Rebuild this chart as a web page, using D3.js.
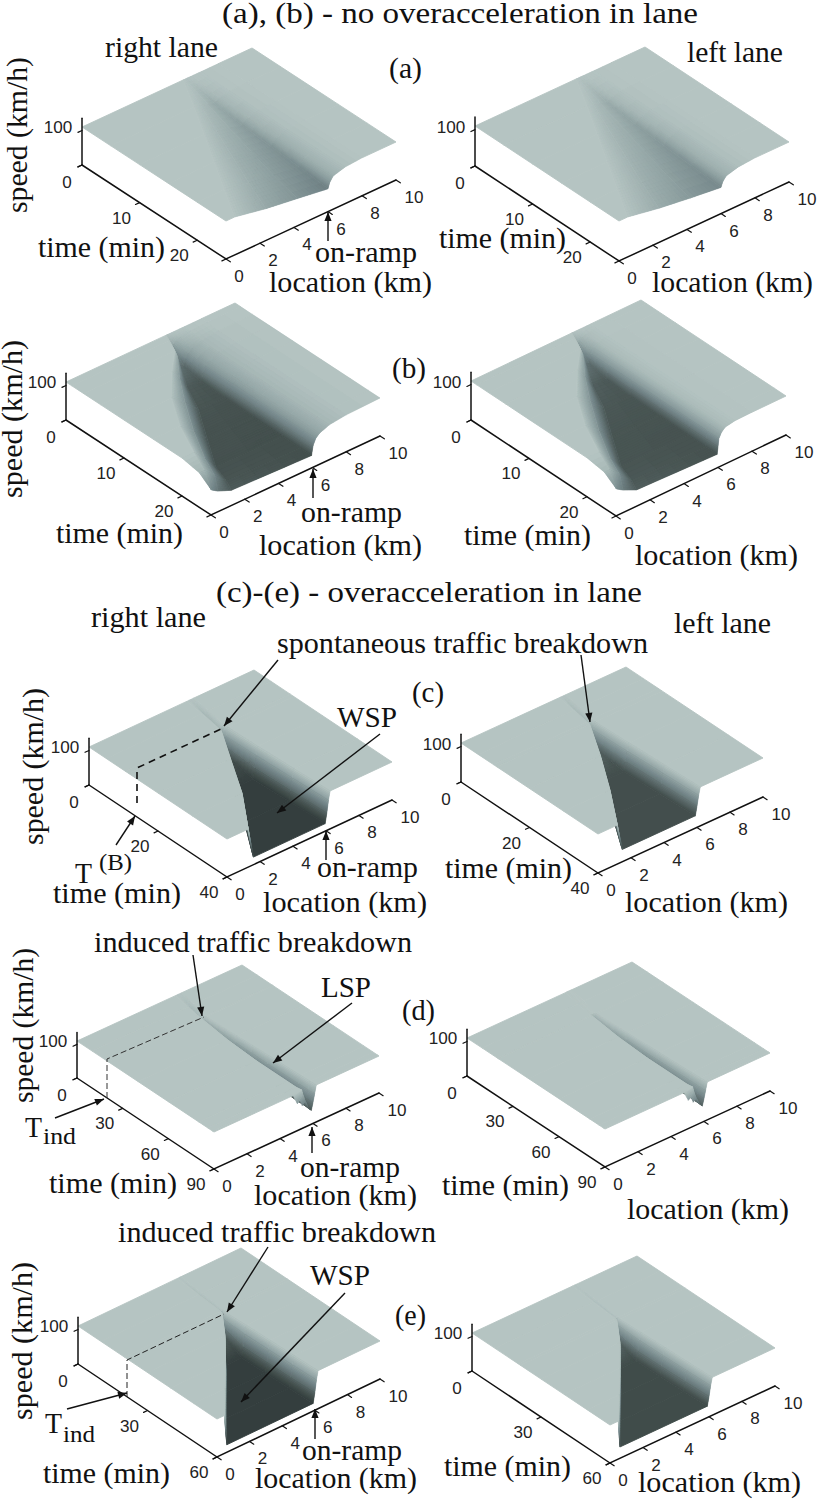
<!DOCTYPE html>
<html><head><meta charset="utf-8">
<script src="https://cdn.jsdelivr.net/npm/d3@7/dist/d3.min.js"></script>
<style>html,body{margin:0;padding:0;background:#fff}svg{display:block}
.serif{font-family:"Liberation Serif",serif}
.sans{font-family:"Liberation Sans",sans-serif}</style>
</head><body><svg id="chart" width="828" height="1500"></svg>
<script>
// ---------- tick labels ----------
const locationTicks=[0,2,4,6,8,10];
const speedTicks=[0,100];
const timeTicksAB=[10,20];
const timeTicksC=[20,40];
const timeTicksD=[30,60,90];
const timeTicksE=[30,60];

// ---------- speed fields (km/h) : rows = time (min), stations = location (km) ----------
const aTimes=[0,5,10,15,20,25];
const aX=[[0,5.95,6.0,6.06,6.12,6.22,6.42,7,8,10],[0,4.9,5.3,5.7,6.1,6.2,6.4,7,8,10],[0,3.8,4.55,5.3,6.07,6.17,6.37,7,8,10],[0,2.7,3.8,4.9,6.05,6.15,6.35,7,8,10],[0,1.6,3.05,4.5,6.02,6.12,6.32,7,8,10],[0,0.5,2.35,4.2,6,6.1,6.3,7,8,10]];
const aRightV=[[110,110,110,110,110,110,110,110,110,110],[110,110,105,100,92,97,102,108,110,110],[110,110,101,94,84,91,99,107,110,110],[110,110,98,89,78,86,96,106,110,110],[110,110,96,85,73,82,94,106,110,110],[110,110,92,79,66,82,96,106,110,110]];
const aLeftV=[[110,110,110,110,110,110,110,110,110,110],[110,110,105,100,93,98,103,108,110,110],[110,110,101,95,86,92,100,107,110,110],[110,110,99,91,80,87,97,106,110,110],[110,110,97,87,76,84,95,106,110,110],[110,110,94,82,72,85,97,106,110,110]];

const bTimes=[0,1,3,6,10,15,20,23,25];
const bX=[[0,5.9,5.92,5.94,5.95,6,6.05,6.2,6.42,7,8,10],[0,5.75,5.8,5.85,5.95,6,6.05,6.2,6.42,7,8,10],[0,5.4,5.55,5.7,5.95,6,6.05,6.2,6.42,7,8,10],[0,4.2,4.65,5.1,5.95,6,6.05,6.2,6.42,7,8,10],[0,2.8,3.6,4.4,5.95,6,6.05,6.2,6.42,7,8,10],[0,1.6,2.4,3.2,5.95,6,6.05,6.2,6.42,7,8,10],[0,0.7,1.35,2,5.95,6,6.05,6.2,6.42,7,8,10],[0,0.3,0.9,1.6,5.95,6,6.05,6.2,6.42,7,8,10],[0,0.02,0.4,1.2,5.95,6,6.05,6.2,6.42,7,8,10]];
const bRightV=[[110,110,110,110,110,110,110,110,110,110,110,110],[110,110,105,95,85,88,92,98,103,108,110,110],[110,110,90,60,52,60,70,84,93,103,108,110],[110,110,82,44,40,52,64,80,90,101,107,110],[110,110,80,40,38,52,64,80,90,101,107,110],[110,110,78,38,37,52,64,80,90,101,107,110],[110,110,78,38,36,52,64,80,90,101,107,110],[100,100,72,40,36,52,64,80,90,101,107,110],[74,72,60,44,36,52,64,80,90,101,107,110]];
const bLeftV=[[110,110,110,110,110,110,110,110,110,110,110,110],[110,110,105,95,86,92,96,102,106,110,110,110],[110,110,90,62,54,66,80,94,104,109,110,110],[110,110,82,46,42,60,80,94,104,109,110,110],[110,110,80,42,40,58,80,94,104,109,110,110],[110,110,78,40,39,58,80,94,104,109,110,110],[110,110,78,40,38,58,80,94,104,109,110,110],[102,102,74,42,38,58,80,94,104,109,110,110],[78,76,64,46,38,58,80,94,104,109,110,110]];

const cRightTimes=[0,5,10.5,11.5,20,30,40];
const cRightX=[[0,5.95,6.05,6.13,6.2,6.25,6.35,10],[0,5.8,5.9,5.98,6.05,6.1,6.2,10],[0,5.62,5.7,5.78,5.85,5.9,5.98,10],[0,5.6,5.65,5.72,5.8,5.9,6,10],[0,4.4,4.5,5.76,5.86,5.96,6.06,10],[0,3,3.15,5.85,5.95,6.05,6.15,10],[0,1.28,1.6,5.95,6.05,6.15,6.25,10]];
const cRightV=[[110,110,110,110,110,110,110,110],[110,110,106,100,104,107,110,110],[110,110,106,100,104,107,110,110],[110,110,60,40,60,85,110,110],[110,110,22,22,50,85,110,110],[110,110,22,22,50,85,110,110],[110,110,22,22,50,85,110,110]];
const cLeftTimes=[0,5,9.5,10.5,20,30,40];
const cLeftX=[[0,5.95,6.05,6.13,6.2,6.25,6.35,10],[0,5.8,5.9,5.95,6,6.05,6.15,10],[0,5.65,5.7,5.76,5.8,5.85,5.92,10],[0,5.62,5.67,5.72,5.78,5.85,5.95,10],[0,4.3,4.4,5.72,5.82,5.92,6.02,10],[0,2.8,2.95,5.81,5.91,6.01,6.11,10],[0,1.17,1.47,5.9,6,6.1,6.2,10]];
const cLeftV=[[110,110,110,110,110,110,110,110],[110,110,106,100,104,107,110,110],[110,110,106,100,104,107,110,110],[110,110,65,48,65,88,110,110],[110,110,35,35,60,88,110,110],[110,110,35,35,60,88,110,110],[110,110,35,35,60,88,110,110]];

const dTimes=[0,10,20,20.5,40,60,80,86,89,90];
const dX=[[0,6,6.03,6.06,6.09,6.12,6.15,6.2,6.25,6.3,6.35,10],[0,5.8,5.83,5.86,5.89,5.92,5.95,6,6.05,6.1,6.15,10],[0,5.65,5.67,5.69,5.71,5.73,5.75,5.78,5.82,5.86,5.9,10],[0,5.66,5.68,5.7,5.72,5.74,5.76,5.8,5.84,5.88,5.93,10],[0,5.45,5.5,5.56,5.62,5.68,5.76,5.85,5.9,5.95,6,10],[0,5.35,5.42,5.5,5.58,5.66,5.78,5.9,5.96,6.02,6.08,10],[0,5.35,5.42,5.5,5.58,5.66,5.78,5.9,5.98,6.06,6.15,10],[0,5.35,5.42,5.5,5.58,5.66,5.78,5.9,5.98,6.07,6.18,10],[0,5.4,5.47,5.54,5.6,5.68,5.78,5.9,5.98,6.08,6.19,10],[0,4.8,5.05,5.2,5.35,5.5,5.7,5.9,6,6.1,6.2,10]];
const dRightV=[[110,110,110,110,110,110,110,110,110,110,110,110],[110,110,109,108,107,106,105,103,105,107,110,110],[110,110,109,108,107,106,105,103,105,107,110,110],[110,110,105,100,95,90,85,78,88,100,110,110],[110,110,98,88,78,68,58,48,68,90,110,110],[110,110,98,86,74,60,50,44,62,86,110,110],[110,110,96,85,75,66,52,42,62,86,110,110],[110,110,96,85,75,66,52,42,62,86,110,110],[110,110,96,85,75,66,52,41,62,86,110,110],[110,110,80,88,68,76,56,41,62,86,110,110]];
const dLeftV=[[110,110,110,110,110,110,110,110,110,110,110,110],[110,110,110,110,110,110,110,110,110,110,110,110],[110,110,110,110,110,110,110,110,110,110,110,110],[110,110,105,100,95,90,85,78,88,100,110,110],[110,110,98,88,78,68,60,50,70,90,110,110],[110,110,98,86,74,62,54,48,66,88,110,110],[110,110,96,85,76,68,56,48,66,88,110,110],[110,110,96,85,76,68,56,48,66,88,110,110],[110,110,96,85,76,68,56,47,66,88,110,110],[110,110,82,90,70,78,60,47,66,88,110,110]];

const eTimes=[0,10,20,21,30,40,50,60];
const eRightX=[[0,6.1,6.15,6.2,6.22,6.25,6.3,10],[0,5.98,6.03,6.08,6.1,6.13,6.18,10],[0,5.88,5.92,5.96,5.98,6,6.04,10],[0,5.85,5.88,5.9,5.93,5.97,6.01,10],[0,4.75,4.8,5.78,5.88,5.98,6.06,10],[0,3.35,3.42,5.81,5.91,6.01,6.11,10],[0,1.9,2,5.85,5.95,6.05,6.15,10],[0,0.45,0.6,5.9,6,6.1,6.2,10]];
const eRightV=[[110,110,110,110,110,110,110,110],[110,110,108,104,106,108,110,110],[110,110,108,104,106,108,110,110],[110,110,60,45,65,88,110,110],[110,110,22,22,50,85,110,110],[110,110,22,22,50,85,110,110],[110,110,22,22,50,85,110,110],[110,110,22,22,50,85,110,110]];
const eLeftX=[[0,6.1,6.15,6.2,6.22,6.25,6.3,10],[0,5.98,6.03,6.08,6.1,6.13,6.18,10],[0,5.88,5.92,5.96,5.98,6,6.04,10],[0,5.85,5.88,5.9,5.93,5.97,6.01,10],[0,4.78,4.82,5.78,5.88,5.98,6.06,10],[0,3.38,3.44,5.81,5.91,6.01,6.11,10],[0,1.95,2.02,5.85,5.95,6.05,6.15,10],[0,0.5,0.6,5.9,6,6.1,6.2,10]];
const eLeftV=[[110,110,110,110,110,110,110,110],[110,110,109,106,107,108,110,110],[110,110,109,106,107,108,110,110],[110,110,62,48,68,90,110,110],[110,110,33,33,58,88,110,110],[110,110,33,33,58,88,110,110],[110,110,33,33,58,88,110,110],[110,110,33,33,58,88,110,110]];

// ---------- page layout ----------
const panels=[
 {O:[82,165],T:[226,259],L:[396,180],h:38,tmax:25,ticks:timeTicksAB,times:aTimes,xs:aX,vs:aRightV},
 {O:[475,166],T:[619,261],L:[789,182],h:40,tmax:25,ticks:timeTicksAB,times:aTimes,xs:aX,vs:aLeftV},
 {O:[66,420],T:[211,515],L:[380,436],h:38,tmax:25,ticks:timeTicksAB,times:bTimes,xs:bX,vs:bRightV},
 {O:[471,420],T:[616,516],L:[786,435],h:39,tmax:25,ticks:timeTicksAB,times:bTimes,xs:bX,vs:bLeftV},
 {O:[89,785],T:[227,877],L:[392,800],h:38,tmax:40,ticks:timeTicksC,times:cRightTimes,xs:cRightX,vs:cRightV},
 {O:[461,782],T:[598,873],L:[763,797],h:39,tmax:40,ticks:timeTicksC,times:cLeftTimes,xs:cLeftX,vs:cLeftV},
 {O:[77,1078],T:[214,1169],L:[379,1093],h:37,tmax:90,ticks:timeTicksD,times:dTimes,xs:dX,vs:dRightV},
 {O:[467,1076],T:[605,1167],L:[770,1091],h:38,tmax:90,ticks:timeTicksD,times:dTimes,xs:dX,vs:dLeftV},
 {O:[78,1364],T:[217,1457],L:[380,1379],h:38,tmax:60,ticks:timeTicksE,times:eTimes,xs:eRightX,vs:eRightV},
 {O:[472,1371],T:[610,1463],L:[775,1386],h:38,tmax:60,ticks:timeTicksE,times:eTimes,xs:eLeftX,vs:eLeftV}
];
// text, x, baseline, width, size, rotated
const labels=[
 ["(a), (b) - no overacceleration in lane",222,23,476,30],
 ["right lane",105,57,113],["left lane",687,62,96],["(a)",389,78,33],["(b)",392,378,34],
 ["time (min)",38,257,127],["on-ramp",315,262,102],["location (km)",269,292,163],
 ["time (min)",439,248,127],["location (km)",652,292,161],
 ["time (min)",56,543,127],["on-ramp",301,522,101],["location (km)",259,555,163],
 ["time (min)",464,545,127],["location (km)",635,565,163],
 ["(c)-(e) - overacceleration in lane",216,602,426,30],
 ["right lane",91,627,115],["left lane",674,633,97],["spontaneous traffic breakdown",277,653,371],
 ["(c)",412,702,32],["WSP",337,727,60],
 ["T",75,883,17,30],["(B)",99,870,33,23],
 ["time (min)",53,903,128],["on-ramp",317,877,101],["location (km)",263,912,164],
 ["time (min)",445,878,127],["location (km)",625,912,163],
 ["induced traffic breakdown",94,952,318],["LSP",321,997,50],["(d)",402,1020,33],
 ["T",25,1137,17,30],["ind",43,1144,33,24],
 ["time (min)",49,1193,128],["on-ramp",300,1177,100],["location (km)",254,1205,163],
 ["time (min)",442,1195,127],["location (km)",627,1219,162],
 ["induced traffic breakdown",118,1242,318],["WSP",310,1285,60],["(e)",395,1325,31],
 ["T",45,1433,17,30],["ind",63,1442,32,24],
 ["time (min)",43,1483,127],["on-ramp",302,1460,100],["location (km)",255,1488,162],
 ["time (min)",444,1476,127],["location (km)",638,1492,163],
 ["speed (km/h)",27,213,156,30,true],["speed (km/h)",22,498,158,30,true],
 ["speed (km/h)",43,845,157,30,true],["speed (km/h)",33,1103,155,30,true],["speed (km/h)",32,1420,158,30,true]
];
const arrows=[
 [328,241,328,212],[313,498,313,469],
 [278,660,224,726],[380,734,277,813],[116,845,135,816],[326,860,326,831],[581,655,590,722],
 [193,955,202,1016],[352,1003,273,1063],[55,1118,104,1099],[312,1153,312,1127],
 [268,1247,227,1312],[345,1293,241,1402],[67,1409,127,1393],[315,1439,315,1409]
];
const dashes=[
 {p:[[137,803],[137,768],[223,728]],w:1.6,c:"#111",d:"7,5"},
 {p:[[107,1098],[107,1059],[204,1017]],w:1,c:"#333",d:"6,3"},
 {p:[[127,1397],[127,1360],[224,1314]],w:1,c:"#222",d:"6,3"}
];

const svg=d3.select("#chart");
const colour=d3.scaleLinear().domain([22,38,70,90,110]).range(["#343e3e","#465250","#748689","#94a6a6","#b5c4c2"]).clamp(true);
const pathLine=d3.line();

function drawPanel(p){
 const g=svg.append("g");
 const tX=d3.scaleLinear().domain([0,p.tmax]).range([p.O[0],p.T[0]]);
 const tY=d3.scaleLinear().domain([0,p.tmax]).range([p.O[1],p.T[1]]);
 const xX=d3.scaleLinear().domain([0,10]).range([0,p.L[0]-p.T[0]]);
 const xY=d3.scaleLinear().domain([0,10]).range([0,p.L[1]-p.T[1]]);
 const vZ=d3.scaleLinear().domain([0,110]).range([0,p.h]);
 const project=(x,t,v)=>[tX(t)+xX(x),tY(t)+xY(x)-vZ(v)];
 const dist=(a,b)=>Math.hypot(a[0]-b[0],a[1]-b[1]);

 // surface: far to near, so nearer cells hide what lies behind them
 const quads=[];
 const mix=(a,b,f)=>a+(b-a)*f;
 for(let i=0;i<p.times.length-1;i++){
  const n=p.xs[i].length;
  for(let j=n-2;j>=0;j--){
   const t0=p.times[i],t1=p.times[i+1];
   const x00=p.xs[i][j],x01=p.xs[i][j+1],x10=p.xs[i+1][j],x11=p.xs[i+1][j+1];
   const v00=p.vs[i][j],v01=p.vs[i][j+1],v10=p.vs[i+1][j],v11=p.vs[i+1][j+1];
   const P00=project(x00,t0,v00),P01=project(x01,t0,v01),P10=project(x10,t1,v10),P11=project(x11,t1,v11);
   const flat=v00===v01&&v10===v11&&v00===v10;
   const M=flat?1:Math.max(1,Math.min(Math.ceil(Math.max(Math.abs(v01-v00),Math.abs(v11-v10))/1.5),Math.ceil(Math.max(dist(P00,P01),dist(P10,P11))/1.6)));
   const N=flat?1:Math.max(1,Math.min(Math.ceil(Math.max(Math.abs(v10-v00),Math.abs(v11-v01),20*Math.abs(x10-x00),20*Math.abs(x11-x01))/2),Math.ceil(Math.max(dist(P00,P10),dist(P01,P11))/1.6)));
   if(!flat) quads.push({pts:[P00,P01,P11,P10],v:(v00+v01+v10+v11)/4,w:0.3});
   for(let a=0;a<N;a++){
    for(let b=M-1;b>=0;b--){
     const pt=(fa,fb)=>{
      const x=mix(mix(x00,x01,fb),mix(x10,x11,fb),fa);
      const v=mix(mix(v00,v01,fb),mix(v10,v11,fb),fa);
      return [x,mix(t0,t1,fa),v];
     };
     const cs=[pt(a/N,b/M),pt(a/N,(b+1)/M),pt((a+1)/N,(b+1)/M),pt((a+1)/N,b/M)];
     quads.push({pts:cs.map(c=>project(c[0],c[1],c[2])),v:d3.mean(cs,c=>c[2]),w:flat?0.9:0.3});
    }
   }
  }
 }
 g.append("g").selectAll("path").data(quads).join("path")
  .attr("d",d=>pathLine(d.pts)+"Z")
  .attr("fill",d=>colour(d.v)).attr("stroke",d=>colour(d.v)).attr("stroke-width",d=>d.w).attr("stroke-linejoin","round");

 // axes
 const ax=g.append("g").attr("stroke","#111").attr("fill","none").attr("stroke-linecap","round");
 const axisTop=p.h*135/110;
 ax.append("path").attr("d",pathLine([project(0,0,0),project(0,p.tmax,0),project(10,p.tmax,0)])).attr("stroke-width",1.5);
 ax.append("path").attr("d",pathLine([project(0,0,0),[p.O[0],p.O[1]-axisTop]])).attr("stroke-width",1.5);
 const locTip=(p.T[0]-p.O[0])*0.03, locTipY=(p.T[1]-p.O[1])*0.03;
 const tmTipX=-(p.L[0]-p.T[0])*0.024, tmTipY=-(p.L[1]-p.T[1])*0.024;
 ax.selectAll(".lt").data(locationTicks).join("path").attr("stroke-width",1.2)
   .attr("d",d=>{const s=project(d,p.tmax,0);return pathLine([s,[s[0]+locTip,s[1]+locTipY]]);});
 ax.selectAll(".tt").data([0,...p.ticks,p.tmax]).join("path").attr("stroke-width",1.2)
   .attr("d",d=>{const s=project(0,d,0);return pathLine([s,[s[0]+tmTipX,s[1]+tmTipY]]);});
 ax.selectAll(".zt").data(speedTicks).join("path").attr("stroke-width",1.2)
   .attr("d",d=>{const s=project(0,0,d);return pathLine([s,[s[0]+tmTipX,s[1]+tmTipY]]);});

 // tick labels
 const num=sel=>sel.attr("class","sans").attr("font-size",16).attr("fill","#222").attr("text-anchor","middle").attr("textLength",d=>String(d).length*9.5).attr("lengthAdjust","spacingAndGlyphs");
 num(g.append("g").selectAll("text").data(locationTicks).join("text").text(d=>d)
   .attr("x",d=>project(d,p.tmax,0)[0]+(d===10?18:13)).attr("y",d=>project(d,p.tmax,0)[1]+23));
 num(g.append("g").selectAll("text").data(p.ticks).join("text").text(d=>d)
   .attr("x",d=>project(0,d,0)[0]-18).attr("y",d=>project(0,d,0)[1]+21));
 num(g.append("g").selectAll("text").data(speedTicks).join("text").text(d=>d)
   .attr("x",d=>d===0?p.O[0]-15:p.O[0]-24).attr("y",d=>d===0?p.O[1]+23:project(0,0,d)[1]+3));
}
panels.forEach(drawPanel);

// dashed guide lines
svg.append("g").selectAll("path").data(dashes).join("path")
 .attr("d",d=>pathLine(d.p)).attr("fill","none").attr("stroke",d=>d.c).attr("stroke-width",d=>d.w).attr("stroke-dasharray",d=>d.d);

// arrows
const ag=svg.append("g");
ag.selectAll("line").data(arrows).join("line")
 .attr("x1",d=>d[0]).attr("y1",d=>d[1]).attr("x2",d=>d[2]).attr("y2",d=>d[3]).attr("stroke","#111").attr("stroke-width",1.4);
ag.selectAll("path").data(arrows).join("path").attr("fill","#111").attr("d",d=>{
 const a=Math.atan2(d[3]-d[1],d[2]-d[0]),l=9,w=3.6,bx=d[2]-l*Math.cos(a),by=d[3]-l*Math.sin(a);
 return pathLine([[d[2],d[3]],[bx-w*Math.sin(a),by+w*Math.cos(a)],[bx+w*Math.sin(a),by-w*Math.cos(a)]])+"Z";
});

// text
svg.append("g").selectAll("text").data(labels).join("text")
 .text(d=>d[0]).attr("class","serif").attr("fill","#111")
 .attr("font-size",d=>d[4]||30)
 .attr("textLength",d=>d[3]).attr("lengthAdjust","spacingAndGlyphs")
 .attr("transform",d=>d[5]?`translate(${d[1]},${d[2]}) rotate(-90)`:`translate(${d[1]},${d[2]})`);
</script></body></html>
